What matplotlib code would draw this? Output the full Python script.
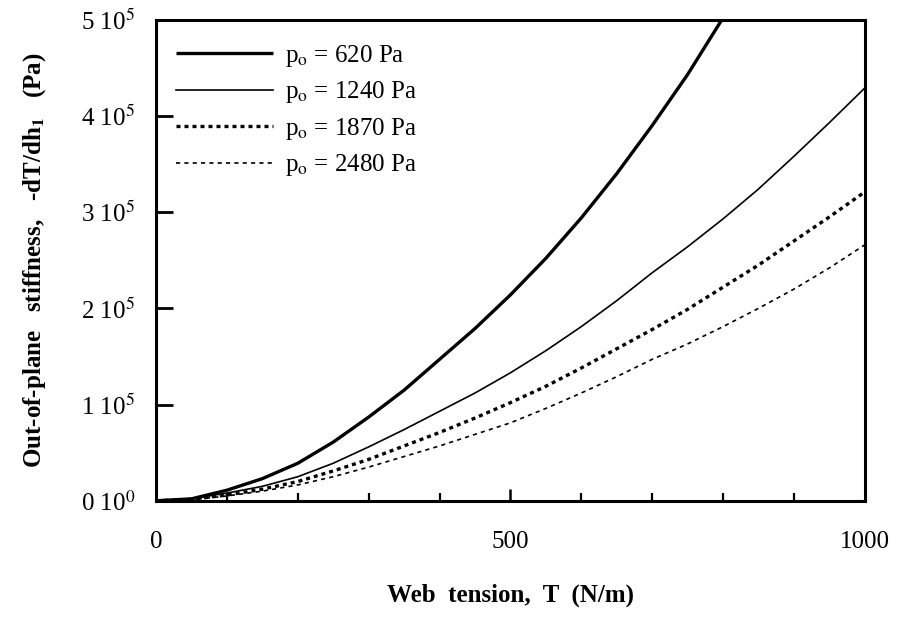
import numpy as np
import matplotlib
matplotlib.use("Agg")
import matplotlib.pyplot as plt
from matplotlib.ticker import MultipleLocator

plt.rcParams['font.family'] = ['Liberation Serif', 'DejaVu Serif']
plt.rcParams['mathtext.fontset'] = 'stix'

# web tension (N/m)
tension = [0, 50, 100, 150, 200, 250, 300, 350, 400, 450, 500,
           550, 600, 650, 700, 750, 800, 850, 900, 950, 1000]

# out-of-plane stiffness, units of 1e5 Pa
p620 = [0, 0.02, 0.11, 0.23, 0.39, 0.61, 0.87, 1.15, 1.47, 1.79, 2.14,
        2.52, 2.94, 3.40, 3.90, 4.43, 5.02]
p1240 = [0, 0.02, 0.08, 0.15, 0.25, 0.39, 0.56, 0.74, 0.93, 1.12, 1.33,
         1.56, 1.81, 2.08, 2.37, 2.64, 2.93, 3.24, 3.58, 3.93, 4.29]
p1870 = [0, 0.015, 0.06, 0.12, 0.20, 0.31, 0.43, 0.57, 0.71, 0.86, 1.02,
         1.19, 1.38, 1.58, 1.78, 1.99, 2.22, 2.45, 2.70, 2.95, 3.21]
p2480 = [0, 0.01, 0.05, 0.10, 0.165, 0.25, 0.35, 0.46, 0.57, 0.69, 0.81,
         0.96, 1.12, 1.29, 1.47, 1.63, 1.81, 2.00, 2.20, 2.42, 2.66]

labels = ["p$_\\mathrm{o}$ = 620 Pa", "p$_\\mathrm{o}$ = 1240 Pa",
          "p$_\\mathrm{o}$ = 1870 Pa", "p$_\\mathrm{o}$ = 2480 Pa"]

ytick_vals = [0, 1e5, 2e5, 3e5, 4e5, 5e5]
ytick_labels = ["0 10$^{0}$", "1 10$^{5}$", "2 10$^{5}$",
                "3 10$^{5}$", "4 10$^{5}$", "5 10$^{5}$"]

fig = plt.figure(figsize=(8.97, 6.19), dpi=100)
ax = fig.add_axes([0.174, 0.191, 0.79, 0.777])

t = np.array(tension)
ax.plot(t[:len(p620)], np.array(p620) * 1e5, color='black', lw=2.4,
        solid_capstyle='butt', label=labels[0])
ax.plot(t, np.array(p1240) * 1e5, color='black', lw=1.2, label=labels[1])
ax.plot(t, np.array(p1870) * 1e5, color='black', lw=2.4,
        dashes=(1.2, 1.2), label=labels[2])
ax.plot(t, np.array(p2480) * 1e5, color='black', lw=1.2,
        dashes=(2.5, 2.5), label=labels[3])

ax.set_xlim(0, 1000)
ax.set_ylim(0, 5e5)

ax.set_xticks([0, 500, 1000])
ax.set_xticklabels(["0", "500", "1000"])
ax.xaxis.set_minor_locator(MultipleLocator(100))
ax.set_yticks(ytick_vals)
ax.set_yticklabels(ytick_labels)

ax.tick_params(axis='x', which='major', direction='in', length=9, width=1.8,
               labelsize=18, pad=22, top=False)
ax.tick_params(axis='x', which='minor', direction='in', length=6, width=1.6,
               top=False)
ax.tick_params(axis='y', which='major', direction='in', length=12, width=2,
               labelsize=18, pad=15, right=False)

for sp in ax.spines.values():
    sp.set_linewidth(2.2)

ax.set_xlabel("Web  tension,  T  (N/m)", fontsize=18, fontweight='bold',
              labelpad=22)
ax.set_ylabel("Out-of-plane   stiffness,   -dT/dh$_\\mathbf{1}$   (Pa)",
              fontsize=18, fontweight='bold', labelpad=24)

ax.legend(loc='upper left', bbox_to_anchor=(0.028, 0.952), frameon=False,
          fontsize=18, handlelength=3.9, handletextpad=0.45,
          labelspacing=0.42, borderpad=0, borderaxespad=0)

fig.savefig("out.png", dpi=100)
